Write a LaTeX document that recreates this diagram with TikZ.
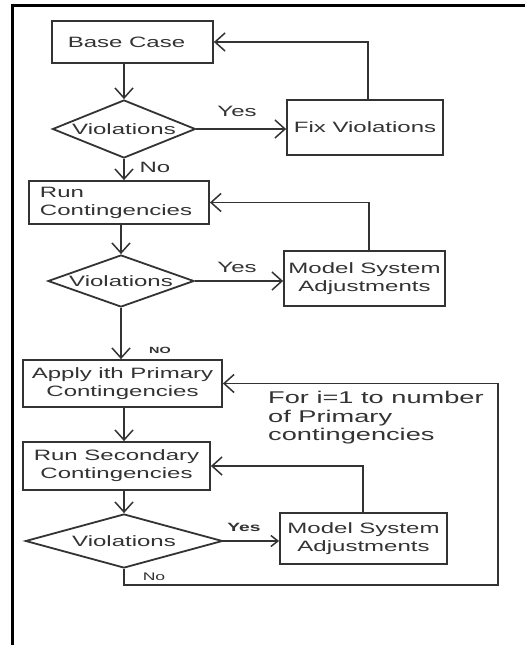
\documentclass[tikz,border=0pt]{standalone}
\usepackage{fontspec}
\setmainfont{Liberation Sans}[FakeStretch=1.6]
\usetikzlibrary{shapes.geometric,arrows.meta,calc}
\definecolor{ln}{HTML}{333333}
\definecolor{tx}{HTML}{333333}
\begin{document}
\begin{tikzpicture}[x=1bp,y=-1bp,
  box/.style={draw=ln,line width=1.8bp,rectangle,inner sep=0pt,align=center,text=tx,
    font=\fontsize{15bp}{18bp}\selectfont},
  dia/.style={draw=ln,line width=1.8bp,diamond,inner sep=0pt,text=tx,
    font=\fontsize{15bp}{18bp}\selectfont},
  arr/.style={draw=ln,line width=1.8bp,-{Straight Barb[length=10bp,width=18bp,line width=1.5bp]}},
  arrs/.style={draw=ln,line width=1.8bp,-{Straight Barb[length=7bp,width=11bp,line width=1.5bp]}},
  lab/.style={text=tx,inner sep=0pt,font=\fontsize{15bp}{18bp}\selectfont},
  labs/.style={text=tx,inner sep=0pt,font=\fontsize{11bp}{13bp}\selectfont},
  labb/.style={text=tx,inner sep=0pt,font=\fontsize{12bp}{14bp}\selectfont\bfseries},
  labt/.style={text=tx,inner sep=0pt,font=\fontsize{9bp}{10bp}\selectfont\bfseries},
  note/.style={text=tx,inner sep=0pt,align=left,font=\fontsize{17bp}{18.5bp}\selectfont}]
\useasboundingbox (0,0) rectangle (525,645);
\fill[white] (0,0) rectangle (525,645);
\draw[line width=3bp,black] (12,645) -- (12,6) -- (525,6);

% nodes
\node[box,minimum width=161bp,minimum height=42bp] (base) at (132.5,42) {\hspace*{-12bp}Base Case};
\node[dia,minimum width=143bp,minimum height=58bp] (d1) at (124,129) {\makebox[0pt]{Violations}};
\node[box,minimum width=156bp,minimum height=55bp] (fix) at (365,127.5) {Fix Violations};
\node[box,minimum height=43bp,text width=158bp,inner xsep=11bp,align=left] (run1) at (119,202.5) {Run\\Contingencies};
\node[dia,minimum width=146bp,minimum height=52bp] (d2) at (121,281) {\makebox[0pt]{Violations}};
\node[box,minimum width=161bp,minimum height=55bp] (msa1) at (364.5,278.5) {Model System\\Adjustments};
\node[box,minimum width=199bp,minimum height=47bp] (apply) at (122.5,383.5) {Apply ith Primary\\Contingencies};
\node[box,minimum width=187bp,minimum height=48bp] (runsec) at (116.5,466) {Run Secondary\\Contingencies};
\node[dia,minimum width=197bp,minimum height=54bp] (d3) at (124,541) {\makebox[0pt]{Violations}};
\node[box,minimum width=167bp,minimum height=51bp] (msa2) at (363.5,538.5) {Model System\\Adjustments};
\coordinate (loopc) at (498,585);

% labels
\node[lab] (y1) at (237,111) {Yes};
\node[lab] (n1) at (155,167) {No};
\node[lab] (y2) at (237,267) {Yes};
\node[labt] (n2) at (160,350) {NO};
\node[note,anchor=north west] (fornote) at (268,391) {For i=1 to number\\of Primary\\contingencies};
\node[labb] (y3) at (244,527) {Yes};
\node[labs] (n3) at (154,577) {No};

% connectors
\draw[arr] (d1.north |- base.south) -- (d1.north);
\draw[arr] (d1.east) -- (d1.east -| fix.west);
\draw[arr] ([xshift=3bp]fix.north) |- (base.east);
\draw[arr] (d1.south) -- (d1.south |- run1.north);
\draw[arr] (d2.north |- run1.south) -- (d2.north);
\draw[arr] (d2.east) -- (d2.east -| msa1.west);
\draw[arr] ([xshift=4.5bp]msa1.north) |- (run1.east);
\draw[arr] (d2.south) -- (d2.south |- apply.north);
\draw[arr] (d3.north |- apply.south) -- (d3.north |- runsec.north);
\draw[arr] (d3.north |- runsec.south) -- (d3.north);
\draw[arrs] (d3.east) -- (d3.east -| msa2.west);
\draw[arr] ([xshift=-0.5bp]msa2.north) |- (runsec.east);
\draw[arr] (d3.south) |- (loopc) |- (apply.east);
\end{tikzpicture}
\end{document}
